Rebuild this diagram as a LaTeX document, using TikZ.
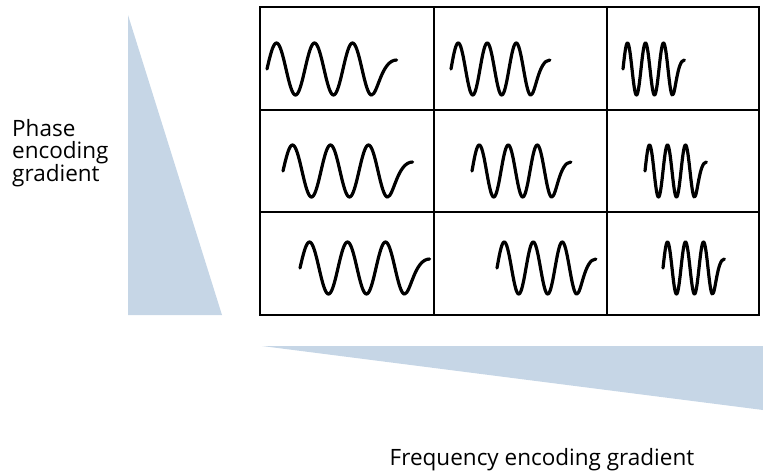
\documentclass[tikz,border=0pt]{standalone}
\usepackage{fontspec}
\setmainfont{Open Sans}
\usetikzlibrary{positioning}
\definecolor{gradblue}{RGB}{198,214,230}

\begin{document}
\begin{tikzpicture}[x=1pt, y=-1pt,
  gradfill/.style={fill=gradblue, draw=none},
  cellline/.style={line width=1.8pt},
  signal/.style={line width=3.2pt, line cap=round, line join=round},
  gradtext/.style={font=\fontsize{22.5}{22.5}\selectfont, inner sep=0pt}]
  \useasboundingbox (0,0) rectangle (763,472);
  % gradients
  \fill[gradfill] (128,15) -- (128,315) -- (222,315) -- cycle;
  \fill[gradfill] (262,346) -- (763,346) -- (763,410) -- cycle;
  \node[gradtext, align=left, anchor=north west] (phaselbl) at (12,119) {Phase\\encoding\\gradient};
  \node[gradtext, anchor=base] (freqlbl) at (542,465) {Frequency encoding gradient};
  % grid
  \draw[cellline] (260,7) rectangle (759,315);
  \draw[cellline] (434,7) -- (434,315) (607,7) -- (607,315);
  \draw[cellline] (260,110) -- (759,110) (260,212) -- (759,212);
  % signals: start x / centre y / period
  \foreach \sx/\cy/\per in {267/69/38, 283/171/38, 300/268/38,
                            451/69/29, 472/171/29, 497/268/29,
                            623/69/18, 645/171/18, 663/268/18} {
    \draw[signal] plot[domain=0:990, samples=120, smooth] ({\sx+\x/360*\per}, {\cy-26*sin(\x)})
      .. controls ({\sx+2.91*\per}, {\cy+26}) and ({\sx+3.01*\per}, {\cy-9}) .. ({\sx+3.41*\per}, {\cy-9});
  }
\end{tikzpicture}
\end{document}
